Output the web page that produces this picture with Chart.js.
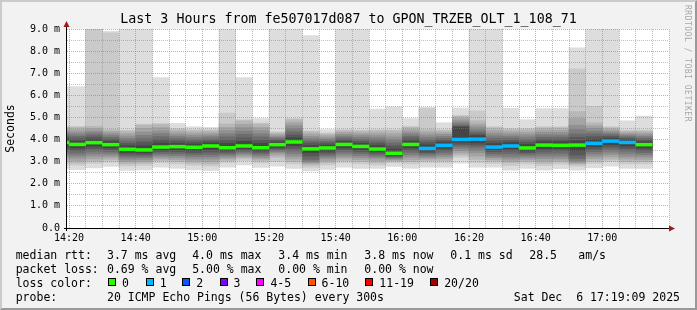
<!DOCTYPE html>
<html>
<head>
<meta charset="utf-8">
<script src="https://cdn.jsdelivr.net/npm/chart.js@4/dist/chart.umd.min.js"></script>
<style>
  body { margin: 0; background: #f2f2f2; }
  #wrap { position: relative; width: 697px; height: 310px; overflow: hidden; font-family: "DejaVu Sans Mono", monospace; }
  #chart { position: absolute; left: 0; top: 0; }
  #frame { position: absolute; left: 0; top: 0; width: 697px; height: 310px; box-sizing: border-box;
           border: 2px solid; border-color: #cbcbcb #999 #999 #cbcbcb; pointer-events: none; }
  .t { position: absolute; white-space: pre; font-size: 11.5px; line-height: 14px; color: #000; }
  .sw { position: absolute; width: 8px; height: 8px; box-sizing: border-box; border: 1px solid #000; }
  #mark { position: absolute; left: 682px; top: 5px; writing-mode: vertical-rl; font-size: 8px; line-height: 10px;
          letter-spacing: 0.5px; color: #a8a8a8; white-space: pre; }
</style>
</head>
<body>
<div id="wrap">
  <canvas id="chart" width="697" height="310"></canvas>
  <div id="legend"></div>
  <div id="mark">RRDTOOL / TOBI OETIKER</div>
  <div id="frame"></div>
</div>
<script>
// one column per 5 minute step (start time), first one only partly visible
const columnStart = ["14:15","14:20","14:25","14:30","14:35","14:40","14:45","14:50","14:55",
  "15:00","15:05","15:10","15:15","15:20","15:25","15:30","15:35","15:40","15:45","15:50","15:55",
  "16:00","16:05","16:10","16:15","16:20","16:25","16:30","16:35","16:40","16:45","16:50","16:55",
  "17:00","17:05","17:10"];

const medianRtt = [3.87,3.78,3.86,3.77,3.56,3.53,3.66,3.68,3.65,3.71,3.63,3.71,3.63,3.77,3.89,3.58,
  3.62,3.78,3.69,3.57,3.38,3.78,3.60,3.74,4.01,4.02,3.66,3.71,3.62,3.75,3.74,3.75,3.83,3.93,3.87,3.77];

const lossCount = [0,0,0,0,0,0,0,0,0,0,0,0,0,0,0,0,0,0,0,0,0,0,1,1,1,1,1,1,0,0,0,0,1,1,1,0];

// 20 sorted ping times (ms) per column
const pings = [
  [2.70,2.90,3.00,3.12,3.23,3.35,3.47,3.59,3.70,3.82,3.92,4.01,4.10,4.19,4.28,4.37,4.46,4.55,4.60,6.40],
  [2.64,2.84,2.94,3.05,3.17,3.28,3.39,3.51,3.62,3.73,3.83,3.93,4.04,4.14,4.24,4.34,4.45,4.55,4.60,6.40],
  [2.72,2.92,3.02,3.13,3.25,3.36,3.47,3.59,3.70,3.81,3.91,4.01,4.11,4.21,4.31,4.40,4.50,4.60,9.50,9.50],
  [2.78,2.98,3.08,3.17,3.26,3.35,3.44,3.54,3.63,3.72,3.82,3.91,4.00,4.09,4.18,4.27,4.36,4.45,8.83,8.90],
  [2.60,2.80,2.90,2.99,3.07,3.16,3.25,3.34,3.42,3.51,3.61,3.72,3.83,3.94,4.05,4.16,4.27,4.38,4.43,9.50],
  [2.63,2.83,2.93,3.01,3.09,3.17,3.25,3.33,3.40,3.48,3.58,3.73,3.89,4.04,4.19,4.34,4.50,4.65,4.70,9.50],
  [2.75,2.95,3.05,3.13,3.21,3.29,3.37,3.45,3.53,3.61,3.71,3.85,3.99,4.13,4.27,4.40,4.54,4.68,4.73,6.80],
  [2.70,2.90,3.00,3.09,3.18,3.27,3.36,3.45,3.54,3.63,3.73,3.83,3.94,4.04,4.14,4.24,4.35,4.45,4.50,4.73],
  [2.63,2.83,2.93,3.03,3.12,3.22,3.31,3.41,3.50,3.60,3.70,3.80,3.90,4.00,4.10,4.20,4.30,4.40,4.45,4.58],
  [2.60,2.80,2.90,3.01,3.12,3.23,3.33,3.44,3.55,3.66,3.76,3.85,3.94,4.03,4.13,4.22,4.31,4.40,4.45,4.55],
  [2.75,2.95,3.05,3.13,3.20,3.28,3.35,3.43,3.50,3.58,3.68,3.83,3.97,4.12,4.26,4.41,4.55,4.70,5.20,9.50],
  [2.85,3.05,3.15,3.22,3.30,3.37,3.44,3.51,3.59,3.66,3.76,3.92,4.07,4.23,4.38,4.54,4.69,4.85,4.90,6.80],
  [2.74,2.94,3.04,3.12,3.19,3.27,3.35,3.43,3.50,3.58,3.68,3.83,3.97,4.12,4.26,4.41,4.55,4.70,4.75,4.95],
  [2.80,3.00,3.20,3.30,3.40,3.45,3.52,3.58,3.65,3.72,3.82,3.89,3.96,4.03,4.09,4.16,4.23,4.30,4.35,9.50],
  [2.70,2.90,3.00,3.12,3.24,3.36,3.48,3.60,3.72,3.84,3.94,4.08,4.21,4.35,4.49,4.63,4.76,4.90,4.95,9.50],
  [2.58,2.75,2.85,2.92,2.97,3.02,3.10,3.25,3.40,3.53,3.63,3.73,3.84,3.94,4.04,4.14,4.25,4.35,4.40,8.70],
  [2.65,2.85,2.95,3.04,3.13,3.22,3.30,3.39,3.48,3.57,3.67,3.75,3.84,3.92,4.00,4.08,4.17,4.25,4.30,4.45],
  [2.75,2.95,3.05,3.15,3.24,3.34,3.44,3.54,3.63,3.73,3.83,3.91,3.99,4.07,4.16,4.24,4.32,4.40,4.45,9.50],
  [2.70,2.90,3.00,3.09,3.18,3.27,3.37,3.46,3.55,3.64,3.74,3.83,3.92,4.01,4.11,4.20,4.29,4.38,4.43,9.50],
  [2.70,2.85,2.95,3.05,3.15,3.22,3.30,3.38,3.45,3.52,3.62,3.73,3.84,3.95,4.07,4.18,4.29,4.40,4.45,5.38],
  [2.78,2.95,3.02,3.06,3.11,3.15,3.20,3.24,3.29,3.33,3.43,3.57,3.71,3.85,3.98,4.12,4.26,4.40,4.45,5.48],
  [2.70,2.90,3.00,3.10,3.21,3.31,3.42,3.52,3.63,3.73,3.83,3.93,4.04,4.14,4.24,4.34,4.45,4.55,4.60,4.95],
  [2.75,2.95,3.05,3.12,3.19,3.26,3.34,3.41,3.48,3.55,3.65,3.76,3.88,3.99,4.11,4.22,4.34,4.45,5.40,5.46],
  [2.75,2.95,3.05,3.14,3.23,3.32,3.42,3.51,3.60,3.69,3.79,3.88,3.96,4.05,4.14,4.23,4.31,4.40,4.45,4.76],
  [2.93,3.20,3.30,3.40,3.50,3.60,3.70,3.78,3.88,3.95,4.10,4.55,4.60,4.65,4.75,4.85,4.95,5.05,5.10,5.42],
  [2.75,2.95,3.10,3.25,3.40,3.52,3.65,3.75,3.85,3.95,4.10,4.18,4.25,4.35,4.45,4.58,4.70,4.85,5.30,9.50],
  [2.75,2.92,3.02,3.10,3.18,3.26,3.35,3.45,3.55,3.62,3.70,3.82,3.94,4.06,4.17,4.29,4.41,4.53,4.58,9.50],
  [2.62,2.82,2.95,3.03,3.12,3.22,3.35,3.48,3.58,3.67,3.76,3.86,3.96,4.06,4.15,4.25,4.35,4.45,4.50,5.41],
  [2.70,2.90,3.00,3.08,3.16,3.24,3.33,3.41,3.49,3.57,3.67,3.78,3.89,4.00,4.12,4.23,4.34,4.45,4.50,4.90],
  [2.62,2.82,2.92,3.03,3.14,3.25,3.37,3.48,3.59,3.70,3.80,3.90,4.01,4.11,4.22,4.32,4.43,4.53,4.58,5.40],
  [2.68,2.88,2.98,3.06,3.15,3.25,3.38,3.50,3.60,3.69,3.79,3.90,4.00,4.11,4.21,4.32,4.42,4.53,4.58,5.40],
  [2.62,2.78,2.88,2.93,2.98,3.05,3.15,3.30,3.50,3.70,3.80,3.95,4.10,4.25,4.45,4.65,4.95,5.26,7.20,8.15],
  [2.72,2.92,3.02,3.13,3.24,3.35,3.45,3.56,3.67,3.78,3.88,4.01,4.13,4.26,4.38,4.51,4.63,4.76,5.50,9.50],
  [2.80,3.00,3.10,3.21,3.32,3.43,3.55,3.66,3.77,3.88,3.98,4.06,4.14,4.22,4.29,4.37,4.45,4.53,4.58,9.50],
  [2.70,2.90,3.00,3.12,3.23,3.35,3.47,3.59,3.70,3.82,3.92,3.99,4.05,4.12,4.18,4.25,4.31,4.38,4.43,4.85],
  [2.70,2.90,3.00,3.10,3.21,3.31,3.41,3.51,3.62,3.72,3.82,3.90,3.98,4.06,4.14,4.22,4.30,4.38,4.43,5.06]
];

const xTickLabels = ["14:20","14:40","15:00","15:20","15:40","16:00","16:20","16:40","17:00"];
const yTickLabels = ["0.0","1.0 m","2.0 m","3.0 m","4.0 m","5.0 m","6.0 m","7.0 m","8.0 m","9.0 m"];

const lossLabels = ["0","1","2","3","4-5","6-10","11-19","20/20"];
const lossColors = ["#26ff00","#00b8ff","#0059ff","#7e00ff","#ff00ff","#ff5500","#ff0000","#a10000"];

const rttStats = ["3.7 ms avg","4.0 ms max","3.4 ms min","3.8 ms now","0.1 ms sd","28.5","am/s"];
const lossStats = ["0.69 % avg","5.00 % max","0.00 % min","0.00 % now"];
const probeText = "20 ICMP Echo Pings (56 Bytes) every 300s";
const stampText = "Sat Dec  6 17:19:09 2025";
const titleText = "Last 3 Hours from fe507017d087 to GPON_TRZEB_OLT_1_108_71";

const FONT = "DejaVu Sans Mono";
const STEP = 5;
const X_MIN = 859.4, X_MAX = 1040;
const GRID = "rgba(130,130,130,0.5)";
const MGRID = "rgba(255,70,70,0.55)";

const toMin = s => { const [h, m] = s.split(":").map(Number); return h * 60 + m; };
const fmt = v => Math.floor(v / 60) + ":" + String(v % 60).padStart(2, "0");

function lossIndex(n) {
  if (n <= 3) return n;
  if (n <= 5) return 4;
  if (n <= 10) return 5;
  if (n <= 19) return 6;
  return 7;
}

// smoke bands: outer pair (1,20) lightest ... inner pair (10,11) darkest
const datasets = [];
const centers = columnStart.map(s => toMin(s) + STEP / 2);

datasets.push({
  data: medianRtt.map((m, i) => ({ x: centers[i], y: [m - 0.065, m + 0.065] })),
  backgroundColor: lossCount.map(n => lossColors[lossIndex(n)]),
  order: 0
});
for (let b = 9; b >= 0; b--) {
  const g = 19 * (9 - b) + 50;
  datasets.push({
    data: pings.map((p, i) => ({ x: centers[i], y: [p[b], p[19 - b]] })),
    backgroundColor: `rgb(${g},${g},${g})`,
    order: 10 - b
  });
}
datasets.forEach(d => Object.assign(d, {
  borderWidth: 0, grouped: false, barPercentage: 1, categoryPercentage: 1
}));

const rrdFrame = {
  id: "rrdFrame",
  beforeDraw(chart) {
    const { ctx, chartArea: a } = chart;
    ctx.save();
    ctx.fillStyle = "#ffffff";
    ctx.fillRect(a.left, a.top, a.right - a.left, a.bottom - a.top);
    ctx.restore();
  },
  afterDraw(chart) {
    const { ctx, chartArea: a } = chart;
    ctx.save();
    ctx.strokeStyle = "#000";
    ctx.lineWidth = 1;
    ctx.beginPath();
    ctx.moveTo(a.left - 3, a.bottom + 0.5);
    ctx.lineTo(a.right + 1, a.bottom + 0.5);
    ctx.moveTo(a.left - 0.5, a.bottom + 3);
    ctx.lineTo(a.left - 0.5, a.top - 3);
    ctx.stroke();
    ctx.fillStyle = "#a01818";
    ctx.beginPath();
    ctx.moveTo(a.right + 6, a.bottom + 0.5);
    ctx.lineTo(a.right, a.bottom - 2.5);
    ctx.lineTo(a.right, a.bottom + 3.5);
    ctx.closePath();
    ctx.fill();
    ctx.beginPath();
    ctx.moveTo(a.left - 0.5, a.top - 8);
    ctx.lineTo(a.left - 3.5, a.top - 2);
    ctx.lineTo(a.left + 2.5, a.top - 2);
    ctx.closePath();
    ctx.fill();
    ctx.restore();
  }
};

new Chart(document.getElementById("chart"), {
  type: "bar",
  data: { datasets },
  plugins: [rrdFrame],
  options: {
    responsive: false,
    animation: false,
    devicePixelRatio: 1,
    // equal side padding keeps the title centred on the whole image
    layout: { padding: { top: 4, right: 28, bottom: 58, left: 28 } },
    plugins: {
      legend: { display: false },
      tooltip: { enabled: false },
      title: {
        display: true, text: titleText, color: "#000",
        font: { family: FONT, size: 13.3, weight: "normal", lineHeight: 1.2 },
        padding: { top: 7.2, bottom: 1.84 }
      }
    },
    scales: {
      x: {
        type: "linear", min: X_MIN, max: X_MAX, offset: false,
        afterBuildTicks: s => {
          const t = [];
          for (let v = toMin(xTickLabels[0]); v <= X_MAX; v += STEP) t.push({ value: v });
          s.ticks = t;
        },
        afterFit: s => { s.height = 24; },
        grid: {
          offset: false, drawTicks: false, z: 1, lineWidth: 1,
          color: c => (c.tick && xTickLabels.includes(fmt(c.tick.value))) ? MGRID : GRID
        },
        border: { display: false, dash: [1, 1] },
        ticks: {
          autoSkip: false, maxRotation: 0, padding: 4, color: "#000",
          font: { family: FONT, size: 10 },
          callback: v => xTickLabels.includes(fmt(v)) ? fmt(v) : ""
        }
      },
      y: {
        min: 0, max: 9,
        afterBuildTicks: s => {
          const t = [];
          for (let v = 0; v <= 9; v += 0.5) t.push({ value: v });
          s.ticks = t;
        },
        afterFit: s => { s.width = 39; },
        grid: {
          drawTicks: false, z: 1, lineWidth: 1,
          color: c => (c.tick && Number.isInteger(c.tick.value)) ? MGRID : GRID
        },
        border: { display: false, dash: [1, 1] },
        ticks: {
          autoSkip: false, padding: 7, color: "#000",
          font: { family: FONT, size: 10 },
          callback: v => Number.isInteger(v) ? yTickLabels[v] : ""
        },
        title: {
          display: true, text: "Seconds", color: "#000",
          font: { family: FONT, size: 11.5 },
          padding: { top: -24, bottom: 0 }
        }
      }
    }
  }
});

// legend block below the graph
const legend = document.getElementById("legend");
function addText(txt, x, top) {
  const s = document.createElement("span");
  s.className = "t";
  s.textContent = txt;
  s.style.left = x + "px";
  s.style.top = top + "px";
  legend.appendChild(s);
  return s;
}
const rowTop = [248.2, 261.7, 275.7, 289.7];
const statX = [107, 192.2, 278.3, 364.3, 450.3, 529.3, 578.3];
const swatchX = [108, 145.8, 182.2, 219.6, 256.4, 307.6, 365.3, 430.2];

addText("median rtt:", 15.7, rowTop[0]);
rttStats.forEach((t, i) => addText(t, statX[i], rowTop[0]));
addText("packet loss:", 15.7, rowTop[1]);
lossStats.forEach((t, i) => addText(t, statX[i], rowTop[1]));
addText("loss color:", 15.7, rowTop[2]);
lossLabels.forEach((t, i) => {
  const sw = document.createElement("div");
  sw.className = "sw";
  sw.style.left = swatchX[i] + "px";
  sw.style.top = (rowTop[2] + 2.5) + "px";
  sw.style.background = lossColors[i];
  legend.appendChild(sw);
  addText(t, swatchX[i] + 14, rowTop[2]);
});
addText("probe:", 15.7, rowTop[3]);
addText(probeText, statX[0], rowTop[3]);
const st = addText(stampText, 0, rowTop[3]);
st.style.left = "auto";
st.style.right = "17px";
</script>
</body>
</html>
